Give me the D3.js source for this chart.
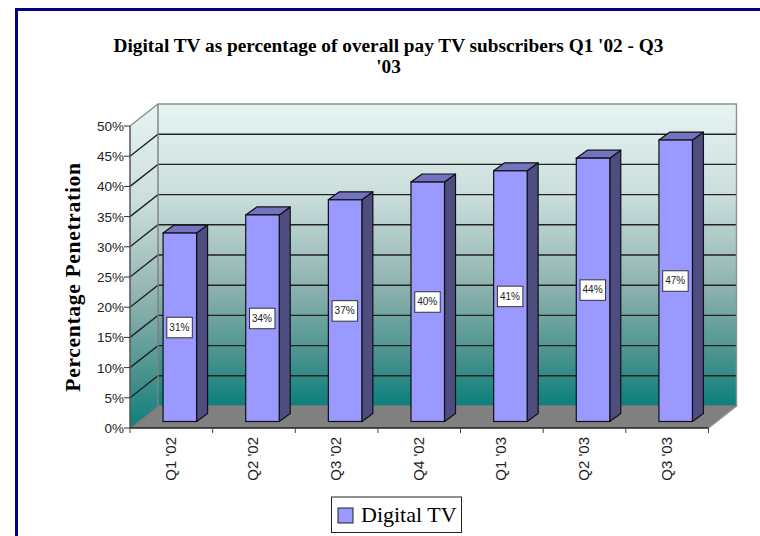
<!DOCTYPE html>
<html><head><meta charset="utf-8">
<script src="https://cdn.jsdelivr.net/npm/d3@7/dist/d3.min.js"></script>
<style>html,body{margin:0;padding:0;background:#fff}svg{display:block}
.sans{font-family:"Liberation Sans",Arial,sans-serif}.serif{font-family:"Liberation Serif","Times New Roman",serif}</style>
</head><body><script>
const categories = ["Q1 '02","Q2 '02","Q3 '02","Q4 '02","Q1 '03","Q2 '03","Q3 '03"];
const values = [31.2,34.2,36.7,39.65,41.5,43.6,46.6];
const valueLabels = ["31%","34%","37%","40%","41%","44%","47%"];
const yTicks = [0,5,10,15,20,25,30,35,40,45,50];
const titleLines = ["Digital TV as percentage of overall pay TV subscribers Q1 '02 - Q3","'03"];
const yTitle = "Percentage Penetration";
const seriesName = "Digital TV";

const svg = d3.select("body").append("svg").attr("width",760).attr("height",536);
const defs = svg.append("defs");
const grad = defs.append("linearGradient").attr("id","wall").attr("x1",0).attr("y1",0).attr("x2",0).attr("y2",1);
[[0,"#e6f4f3"],[.3,"#cbdedc"],[.6,"#8fb3b0"],[.85,"#44908c"],[1,"#0a807c"]].forEach(d=>grad.append("stop").attr("offset",d[0]).attr("stop-color",d[1]));

const x = d3.scaleBand().domain(categories).range([130,708.5]);
const y = d3.scaleLinear().domain([0,50]).range([428,126]);
const dx = 28, dy = -22;
const barW = 33.5, barDx = 8.5, barDy = -6.5, sideX = 11, sideY = -8;
const poly = pts => pts.map(p=>p.join(",")).join(" ");

// frame
svg.append("path").attr("d","M760,9.5H16.5V536").attr("fill","none").attr("stroke","#000080").attr("stroke-width",3);

// title
svg.append("g").selectAll("text").data(titleLines).join("text").attr("class","serif")
  .attr("x",388.5).attr("y",(d,i)=>52+i*21).attr("text-anchor","middle")
  .attr("font-size",19.3).attr("font-weight","bold").attr("fill","#000").text(d=>d);

// walls
const x0 = x.range()[0], x1 = x.range()[1];
const yTop = y(50), yBot = y(0);
svg.append("rect").attr("x",x0+dx).attr("y",yTop+dy).attr("width",x1-x0).attr("height",yBot-yTop)
  .attr("fill","url(#wall)").attr("stroke","none");
svg.append("polygon").attr("points",poly([[x0,yTop],[x0+dx,yTop+dy],[x0+dx,yBot+dy],[x0,yBot]])).attr("fill","url(#wall)");
svg.append("polygon").attr("points",poly([[x0,yBot],[x0+dx,yBot+dy],[x1+dx,yBot+dy],[x1,yBot]])).attr("fill","#808080");

// gridlines
const grid = svg.append("g").attr("fill","none");
yTicks.filter(t=>t>0 && t<50).forEach(t=>{
  grid.append("polyline").attr("points",poly([[x0,y(t)],[x0+dx,y(t)+dy],[x1+dx,y(t)+dy]])).attr("stroke","#222").attr("stroke-width",1.4);
});
grid.append("polyline").attr("points",poly([[x0,yTop],[x0+dx,yTop+dy],[x1+dx,yTop+dy],[x1+dx,yBot+dy],[x1,yBot]])).attr("stroke","#909090").attr("stroke-width",1.4);
grid.append("polyline").attr("points",poly([[x0+dx,yTop+dy],[x0+dx,yBot+dy],[x1+dx,yBot+dy]])).attr("stroke","#808080").attr("stroke-width",1.4);
grid.append("line").attr("x1",x0).attr("y1",yBot).attr("x2",x0+dx).attr("y2",yBot+dy).attr("stroke","#666").attr("stroke-width",1);

// bars
const bars = svg.append("g").selectAll("g").data(values).join("g");
const bx = (d,i)=>x(categories[i])+x.bandwidth()/2+barDx-barW/2;
const by = d=>y(d)+barDy;
const by0 = y(0)+barDy;
bars.append("polygon").attr("points",(d,i)=>{const l=bx(d,i)+barW;return poly([[l,by(d)],[l+sideX,by(d)+sideY],[l+sideX,by0+sideY],[l,by0]]);})
  .attr("fill","#4d4d80").attr("stroke","#111").attr("stroke-width",1.2).attr("stroke-linejoin","round");
bars.append("polygon").attr("points",(d,i)=>{const l=bx(d,i);return poly([[l,by(d)],[l+sideX,by(d)+sideY],[l+barW+sideX,by(d)+sideY],[l+barW,by(d)]]);})
  .attr("fill","#7373bf").attr("stroke","#111").attr("stroke-width",1.2).attr("stroke-linejoin","round");
bars.append("rect").attr("x",bx).attr("y",by).attr("width",barW).attr("height",d=>by0-by(d))
  .attr("fill","#9999ff").attr("stroke","#111").attr("stroke-width",1.2);

// value labels
const lab = bars.append("g").attr("transform",(d,i)=>`translate(${bx(d,i)+barW/2-0.5},${(by(d)+by0)/2})`);
lab.append("rect").attr("x",-12.5).attr("y",-10).attr("width",25.5).attr("height",20.5).attr("fill","#fff").attr("stroke","#333").attr("stroke-width",1);
lab.append("text").attr("class","sans").attr("text-anchor","middle").attr("y",3.5).attr("font-size",10).attr("fill","#222").text((d,i)=>valueLabels[i]);

// y axis
const yAxis = svg.append("g");
yAxis.append("line").attr("x1",x0).attr("x2",x0).attr("y1",yTop).attr("y2",yBot).attr("stroke","#555").attr("stroke-width",1.5);
yAxis.selectAll("line.t").data(yTicks).join("line").attr("class","t").attr("x1",x0-6).attr("x2",x0).attr("y1",d=>y(d)).attr("y2",d=>y(d)).attr("stroke","#333").attr("stroke-width",1);
yAxis.selectAll("text").data(yTicks).join("text").attr("class","sans").attr("x",x0-6).attr("y",d=>y(d)+5)
  .attr("text-anchor","end").attr("font-size",13.5).attr("fill","#222").text(d=>d+"%");

// x axis
const xAxis = svg.append("g");
xAxis.append("line").attr("x1",x0).attr("x2",x1).attr("y1",yBot).attr("y2",yBot).attr("stroke","#222").attr("stroke-width",1.4);
const tickXs = categories.map(c=>x(c)).concat([x1]);
xAxis.selectAll("line.t").data(tickXs).join("line").attr("class","t").attr("x1",d=>d).attr("x2",d=>d).attr("y1",yBot).attr("y2",yBot+5).attr("stroke","#444").attr("stroke-width",1);
xAxis.selectAll("text").data(categories).join("text").attr("class","sans")
  .attr("transform",d=>`translate(${x(d)+x.bandwidth()/2+4.5},437) rotate(-90)`)
  .attr("text-anchor","end").attr("font-size",15).attr("fill","#222").text(d=>d);

// y title
svg.append("text").attr("class","serif").attr("transform","translate(80,277) rotate(-90)").attr("text-anchor","middle")
  .attr("font-size",21.5).attr("font-weight","bold").attr("letter-spacing",0.7).attr("fill","#000").text(yTitle);

// legend
const leg = svg.append("g");
leg.append("rect").attr("x",331.5).attr("y",497).attr("width",130).attr("height",35.5).attr("fill","#fff").attr("stroke","#222").attr("stroke-width",1);
leg.append("rect").attr("x",338).attr("y",508).attr("width",15).attr("height",15).attr("fill","#9999ff").attr("stroke","#222").attr("stroke-width",1);
leg.append("text").attr("class","serif").attr("x",361).attr("y",522).attr("font-size",22).attr("fill","#000").text(seriesName);
</script></body></html>
